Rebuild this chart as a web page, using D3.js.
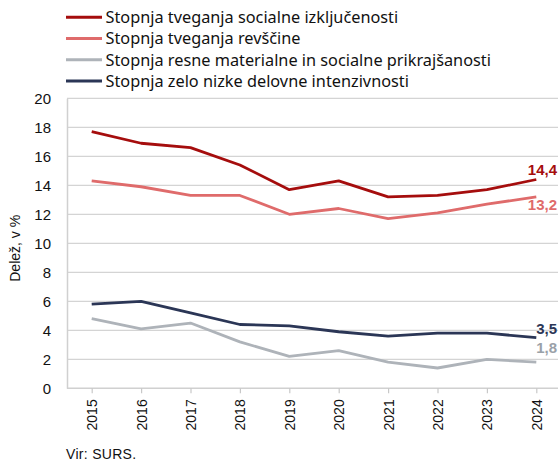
<!DOCTYPE html>
<html>
<head>
<meta charset="utf-8">
<script src="https://cdn.jsdelivr.net/npm/d3@7"></script>
<style>
  html, body { margin: 0; padding: 0; background: #fff; }
  svg { display: block; font-family: "Liberation Sans", Arial, sans-serif; }
</style>
</head>
<body>
<svg id="chart" width="558" height="464"></svg>
<script>
// Years on the x axis
const years = ["2015", "2016", "2017", "2018", "2019", "2020", "2021", "2022", "2023", "2024"];

// Indicators, in %
const socialExclusion = [17.7, 16.9, 16.6, 15.4, 13.7, 14.3, 13.2, 13.3, 13.7, 14.4];
const povertyRisk     = [14.3, 13.9, 13.3, 13.3, 12.0, 12.4, 11.7, 12.1, 12.7, 13.2];
const severeDeprivation = [4.8, 4.1, 4.5, 3.2, 2.2, 2.6, 1.8, 1.4, 2.0, 1.8];
const lowWorkIntensity  = [5.8, 6.0, 5.2, 4.4, 4.3, 3.9, 3.6, 3.8, 3.8, 3.5];

const seriesNames = [
  "Stopnja tveganja socialne izključenosti",
  "Stopnja tveganja revščine",
  "Stopnja resne materialne in socialne prikrajšanosti",
  "Stopnja zelo nizke delovne intenzivnosti"
];
const seriesValues = [socialExclusion, povertyRisk, severeDeprivation, lowWorkIntensity];
const seriesColors = ["#a50d0d", "#df6b6b", "#aeb3b9", "#2b3656"];

const yTicks = [0, 2, 4, 6, 8, 10, 12, 14, 16, 18, 20];

const svg = d3.select("#chart");
const plot = { left: 67, right: 561, top: 98.3, bottom: 388.3 };

const x = d3.scalePoint().domain(years).range([plot.left, plot.right]).padding(0.5);
const y = d3.scaleLinear().domain([0, 20]).range([plot.bottom, plot.top]);

// Horizontal grid
svg.append("g")
  .selectAll("line")
  .data(yTicks.filter(d => d > 0))
  .join("line")
  .attr("x1", plot.left).attr("x2", plot.right)
  .attr("y1", d => y(d)).attr("y2", d => y(d))
  .attr("stroke", "#d4d4d4").attr("stroke-width", 1.2);

// Y axis
const yAxis = svg.append("g")
  .attr("transform", `translate(${plot.left},0)`)
  .call(d3.axisLeft(y).tickValues(yTicks).tickSize(0).tickPadding(16).tickFormat(d3.format("d")));
yAxis.select(".domain").attr("stroke", "#d0d0d0").attr("stroke-width", 1.5);
yAxis.selectAll("text").attr("font-size", 15).attr("fill", "#111")
  .attr("font-family", "Liberation Sans, Arial, sans-serif");

// X axis
const xAxis = svg.append("g")
  .attr("transform", `translate(0,${plot.bottom})`)
  .call(d3.axisBottom(x).tickSize(5).tickSizeOuter(0));
xAxis.select(".domain").attr("d", `M${plot.left},0H${plot.right}`)
  .attr("stroke", "#d0d0d0").attr("stroke-width", 1.5);
xAxis.selectAll(".tick line").attr("stroke", "#c8c8c8").attr("stroke-width", 1.2);
xAxis.selectAll("text")
  .attr("font-size", 14).attr("fill", "#111")
  .attr("font-family", "Liberation Sans, Arial, sans-serif")
  .attr("transform", "rotate(-90)")
  .attr("text-anchor", "end")
  .attr("x", -11).attr("y", 0).attr("dy", "0.36em");

// Y title
svg.append("text")
  .attr("transform", `translate(20,${(plot.top + plot.bottom) / 2 + 5}) rotate(-90)`)
  .attr("text-anchor", "middle")
  .attr("font-size", 14).attr("fill", "#111")
  .text("Delež, v %");

// Lines
const line = d3.line().x((d, i) => x(years[i])).y(d => y(d));
svg.append("g")
  .selectAll("path")
  .data(seriesValues)
  .join("path")
  .attr("d", d => line(d))
  .attr("fill", "none")
  .attr("stroke", (d, i) => seriesColors[i])
  .attr("stroke-width", 2.8)
  .attr("stroke-linejoin", "round");

// End value labels
const labelOffsets = [-5, 13, -9, -4];
const last = years.length - 1;
svg.append("g")
  .selectAll("text")
  .data(seriesValues)
  .join("text")
  .attr("x", 557)
  .attr("y", (d, i) => y(d[last]) + labelOffsets[i])
  .attr("text-anchor", "end")
  .attr("font-size", 15).attr("font-weight", "bold")
  .attr("fill", (d, i) => i === 2 ? "#9aa1a8" : seriesColors[i])
  .text(d => d3.format(".1f")(d[last]).replace(".", ","));

// Legend
const legend = svg.append("g")
  .selectAll("g")
  .data(seriesNames)
  .join("g")
  .attr("transform", (d, i) => `translate(66,${17.3 + i * 21.2})`);
legend.append("line")
  .attr("x1", 0).attr("x2", 36).attr("y1", 0).attr("y2", 0)
  .attr("stroke", (d, i) => seriesColors[i]).attr("stroke-width", 3);
legend.append("text")
  .attr("x", 39.5).attr("y", 0).attr("dy", "0.36em")
  .attr("font-size", 16.3).attr("fill", "#111")
  .attr("font-family", "Noto Sans, sans-serif")
  .text(d => d);

// Source
svg.append("text")
  .attr("x", 66).attr("y", 459)
  .attr("font-size", 14).attr("letter-spacing", 0.3).attr("fill", "#111")
  .text("Vir: SURS.");
</script>
</body>
</html>
